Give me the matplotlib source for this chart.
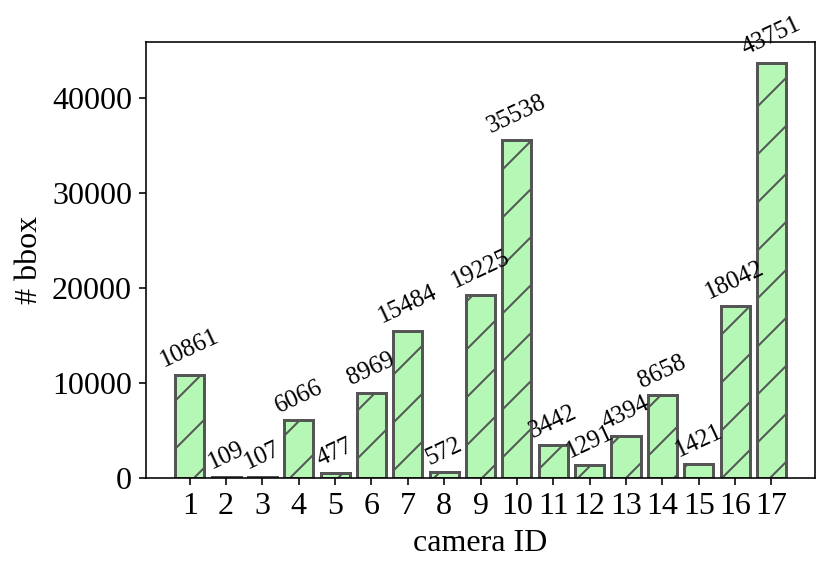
import numpy as np
import matplotlib
matplotlib.use('Agg')
import matplotlib.pyplot as plt

plt.rcParams['font.family'] = ['Liberation Serif', 'DejaVu Serif']
plt.rcParams['hatch.color'] = '#555555'
plt.rcParams['hatch.linewidth'] = 1.0

camera_ids = list(range(1, 18))
bbox_counts = [10861, 109, 107, 6066, 477, 8969, 15484, 572, 19225, 35538,
               3442, 1291, 4394, 8658, 1421, 18042, 43751]

fig, ax = plt.subplots(figsize=(830/144, 572/144), dpi=144)
bars = ax.bar(camera_ids, bbox_counts, width=0.8, color='#b5f7b5',
              edgecolor='#555555', linewidth=1.5, hatch='/')
for x, v in zip(camera_ids, bbox_counts):
	ax.text(x, v + 300, str(v), ha='center', va='bottom', rotation=25, fontsize=12.5)

ax.set_xlim(-0.2, 18.2)
ax.set_xticks(camera_ids)
ax.tick_params(axis='both', labelsize=16)
ax.set_xlabel('camera ID', fontsize=16)
ax.set_ylabel('# bbox', fontsize=16)
plt.subplots_adjust(left=0.176, right=0.982, top=0.927, bottom=0.165)
plt.savefig('out.png')
